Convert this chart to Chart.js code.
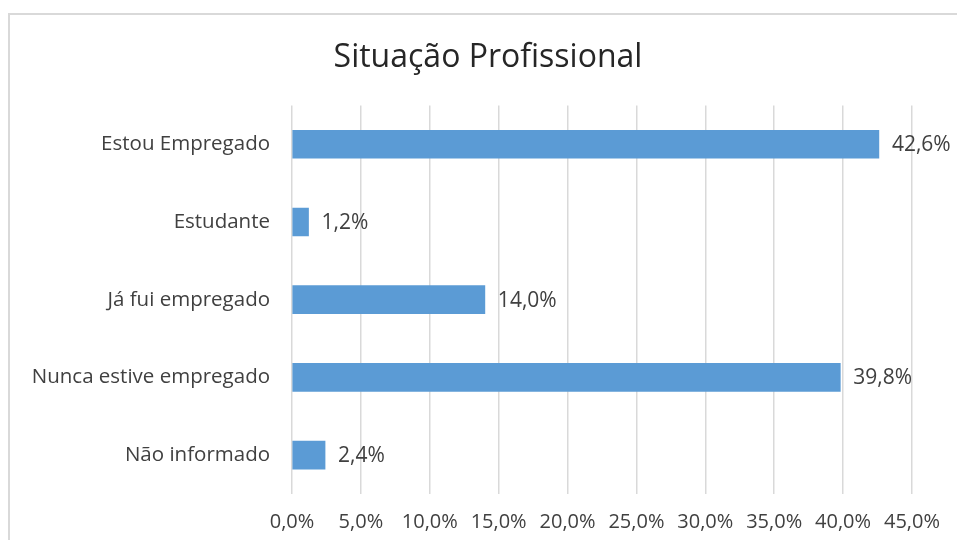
<!DOCTYPE html>
<html>
<head>
<meta charset="utf-8">
<script src="https://cdn.jsdelivr.net/npm/chart.js@4/dist/chart.umd.min.js"></script>
<style>
  body { margin: 0; background: #fff; }
  #moldura { position: absolute; left: 8px; top: 13px; width: 1000px; height: 600px; border: 2px solid #d9d9d9; }
  #caixa { position: absolute; left: 0; top: 0; width: 957px; height: 540px; }
</style>
</head>
<body>
<div id="moldura"></div>
<div id="caixa"><canvas id="grafic" width="957" height="540"></canvas></div>
<script>
// categories i valors llegits del grafic
const categories = ['Estou Empregado', 'Estudante', 'Já fui empregado', 'Nunca estive empregado', 'Não informado'];
const valors = [42.6, 1.2, 14.0, 39.8, 2.4];
const marcas = [0, 5, 10, 15, 20, 25, 30, 35, 40, 45];

const fmt = v => v.toFixed(1).replace('.', ',') + '%';
const font = '"Open Sans", Lato, sans-serif';

// etiquetes de valor al final de cada barra
const etiquetes = {
  id: 'etiquetes',
  afterDatasetsDraw(chart) {
    const ctx = chart.ctx;
    const meta = chart.getDatasetMeta(0);
    ctx.save();
    ctx.font = '21px ' + font;
    ctx.fillStyle = '#404040';
    ctx.textAlign = 'left';
    ctx.textBaseline = 'middle';
    meta.data.forEach((bar, i) => {
      ctx.fillText(fmt(valors[i]), bar.x + 13, bar.y + 1);
    });
    ctx.restore();
  }
};

const ctx = document.getElementById('grafic').getContext('2d');
new Chart(ctx, {
  type: 'bar',
  data: {
    labels: categories,
    datasets: [{
      data: valors,
      backgroundColor: '#5b9bd5',
      barThickness: 28
    }]
  },
  plugins: [etiquetes],
  options: {
    indexAxis: 'y',
    responsive: false,
    animation: false,
    layout: { padding: { left: 19, right: 0, top: 0, bottom: 0 } },
    plugins: {
      legend: { display: false },
      tooltip: { enabled: false },
      title: {
        display: true,
        text: 'Situação Profissional',
        color: '#262626',
        font: { family: font, size: 32, weight: 'normal' },
        padding: { top: 39, bottom: 28 }
      }
    },
    scales: {
      x: {
        min: 0,
        // l'eix s'allarga fins a la vora dreta; la darrera marca és 45%
        max: 48.27,
        afterBuildTicks: s => { s.ticks = marcas.map(v => ({ value: v })); },
        afterFit: s => { s.height = 46; },
        grid: { color: '#d9d9d9', lineWidth: 1.5, drawTicks: false },
        border: { display: false },
        ticks: {
          padding: 16,
          color: '#404040',
          maxRotation: 0,
          autoSkip: false,
          font: { family: font, size: 20 },
          callback: v => fmt(v)
        }
      },
      y: {
        afterFit: s => { s.width = 273; },
        grid: { display: false, drawTicks: false },
        border: { display: false },
        ticks: {
          padding: 22,
          color: '#404040',
          font: { family: font, size: 20.5 }
        }
      }
    }
  }
});
</script>
</body>
</html>
